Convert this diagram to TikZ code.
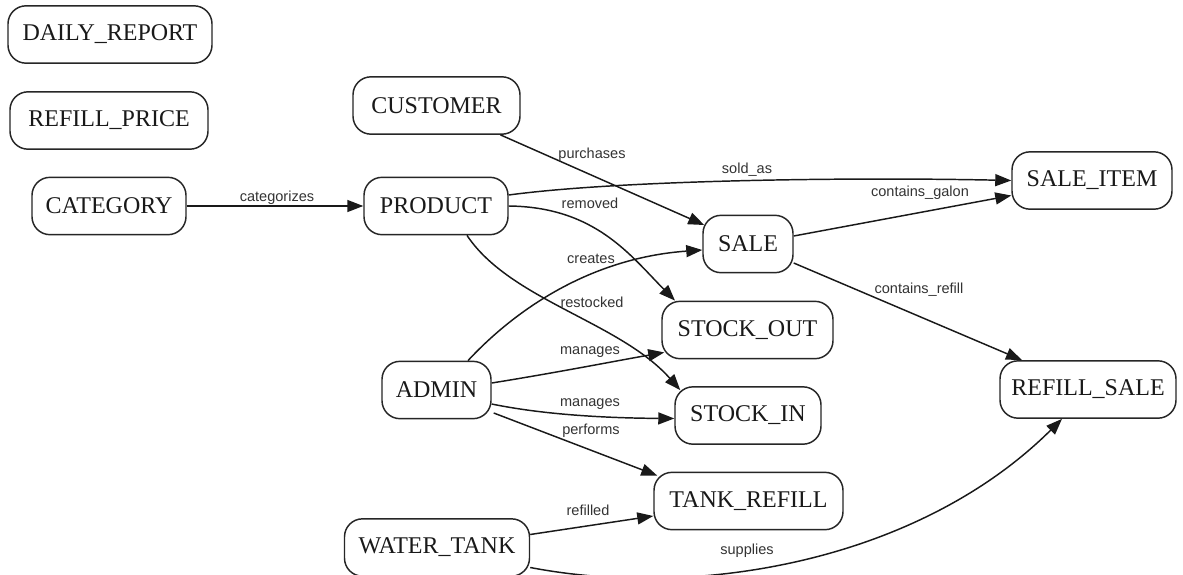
\documentclass[tikz,border=0pt]{standalone}
\usepackage{fontspec}
\setmainfont{Liberation Serif}
\newfontfamily\lblfont{Liberation Sans}
\usetikzlibrary{arrows.meta,calc}
\begin{document}
\begin{tikzpicture}[x=0.75pt,y=-0.75pt,
  box/.style={draw=black!85, line width=1.1pt, rounded corners=13.5pt,
    minimum height=43pt, inner xsep=2pt, inner ysep=0pt,
    font=\fontsize{18}{20}\selectfont, text=black!90},
  lbl/.style={font=\lblfont\fontsize{10.9}{12}\selectfont, text=black!80, inner sep=0pt},
  conn/.style={line width=1.1pt, draw=black!90, -{Triangle[length=12pt,width=9pt]}}]
\clip (0,0) rectangle (1183,575);
\fill[white] (0,0) rectangle (1183,575);
% nodes
\node[box, minimum width=153pt]    (dr)   at (110,34.5)  {DAILY\_REPORT};
\node[box, minimum width=148.5pt]  (rp)   at (109,120.5) {REFILL\_PRICE};
\node[box, minimum width=115.5pt]  (cat)  at (109,206)   {CATEGORY};
\node[box, minimum width=125.25pt] (cust) at (436.5,105.5) {CUSTOMER};
\node[box, minimum width=108pt]    (prod) at (436,206)   {PRODUCT};
\node[box, minimum width=120pt]    (si)   at (1092,180.5) {SALE\_ITEM};
\node[box, minimum width=67.5pt]   (sale) at (748,244)   {SALE};
\node[box, minimum width=128.25pt] (so)   at (747.5,330) {STOCK\_OUT};
\node[box, minimum width=81.75pt]  (adm)  at (436.5,390) {ADMIN};
\node[box, minimum width=109.5pt]  (sin)  at (748,415.5) {STOCK\_IN};
\node[box, minimum width=132pt]    (rs)   at (1088,389.5) {REFILL\_SALE};
\node[box, minimum width=141.75pt] (tr)   at (748.5,501) {TANK\_REFILL};
\node[box, minimum width=138.75pt] (wt)   at (437,547.5) {WATER\_TANK};
% connectors
\draw[conn] (cat.east) -- (prod.west);
\draw[conn] ($(cust.south)+(64,0)$) -- ($(sale.west)+(2,-19)$);
\draw[conn] ($(prod.east)+(0,-11)$) .. controls (620,180) and (850,177) .. (si.west);
\draw[conn] ($(sale.east)+(0,-8)$) -- ($(si.west)+(0,15)$);
\draw[conn] (prod.east) .. controls (595,207) and (630,255) .. ($(so.north)+(-72.5,0)$);
\draw[conn] ($(prod.south)+(31,0)$) .. controls (510,300) and (620,322) .. ($(sin.north west)+(6,4)$);
\draw[conn] ($(adm.north)+(31.5,0)$) .. controls (515,310) and (590,258) .. ($(sale.west)+(0,6)$);
\draw[conn] ($(adm.east)+(0,-7)$) .. controls (560,372) and (610,362) .. ($(so.south west)+(3,-7)$);
\draw[conn] ($(adm.east)+(0,14)$) .. controls (540,414) and (600,418) .. ($(sin.west)+(0,3)$);
\draw[conn] ($(adm.east)+(2,23)$) -- ($(tr.north west)+(4,4)$);
\draw[conn] ($(wt.east)+(0,-13)$) -- ($(tr.west)+(0,15)$);
\draw[conn] ($(wt.east)+(0,20)$) .. controls (700,600) and (920,560) .. ($(rs.south)+(-26,0)$);
\draw[conn] ($(sale.east)+(0,19)$) -- ($(rs.north)+(-66,0)$);
% labels
\node[lbl] (l1)  at (277,198) {categorizes};
\node[lbl] (l2)  at (592,155) {purchases};
\node[lbl] (l3)  at (747,170) {sold\_as};
\node[lbl] (l4)  at (590,203) {removed};
\node[lbl] (l5)  at (920,193) {contains\_galon};
\node[lbl] (l6)  at (591,259) {creates};
\node[lbl] (l7)  at (919,290) {contains\_refill};
\node[lbl] (l8)  at (592,302) {restocked};
\node[lbl] (l9)  at (590,352) {manages};
\node[lbl] (l10) at (590,404) {manages};
\node[lbl] (l11) at (591,431) {performs};
\node[lbl] (l12) at (588,510) {refilled};
\node[lbl] (l13) at (747,551) {supplies};
\end{tikzpicture}
\end{document}
